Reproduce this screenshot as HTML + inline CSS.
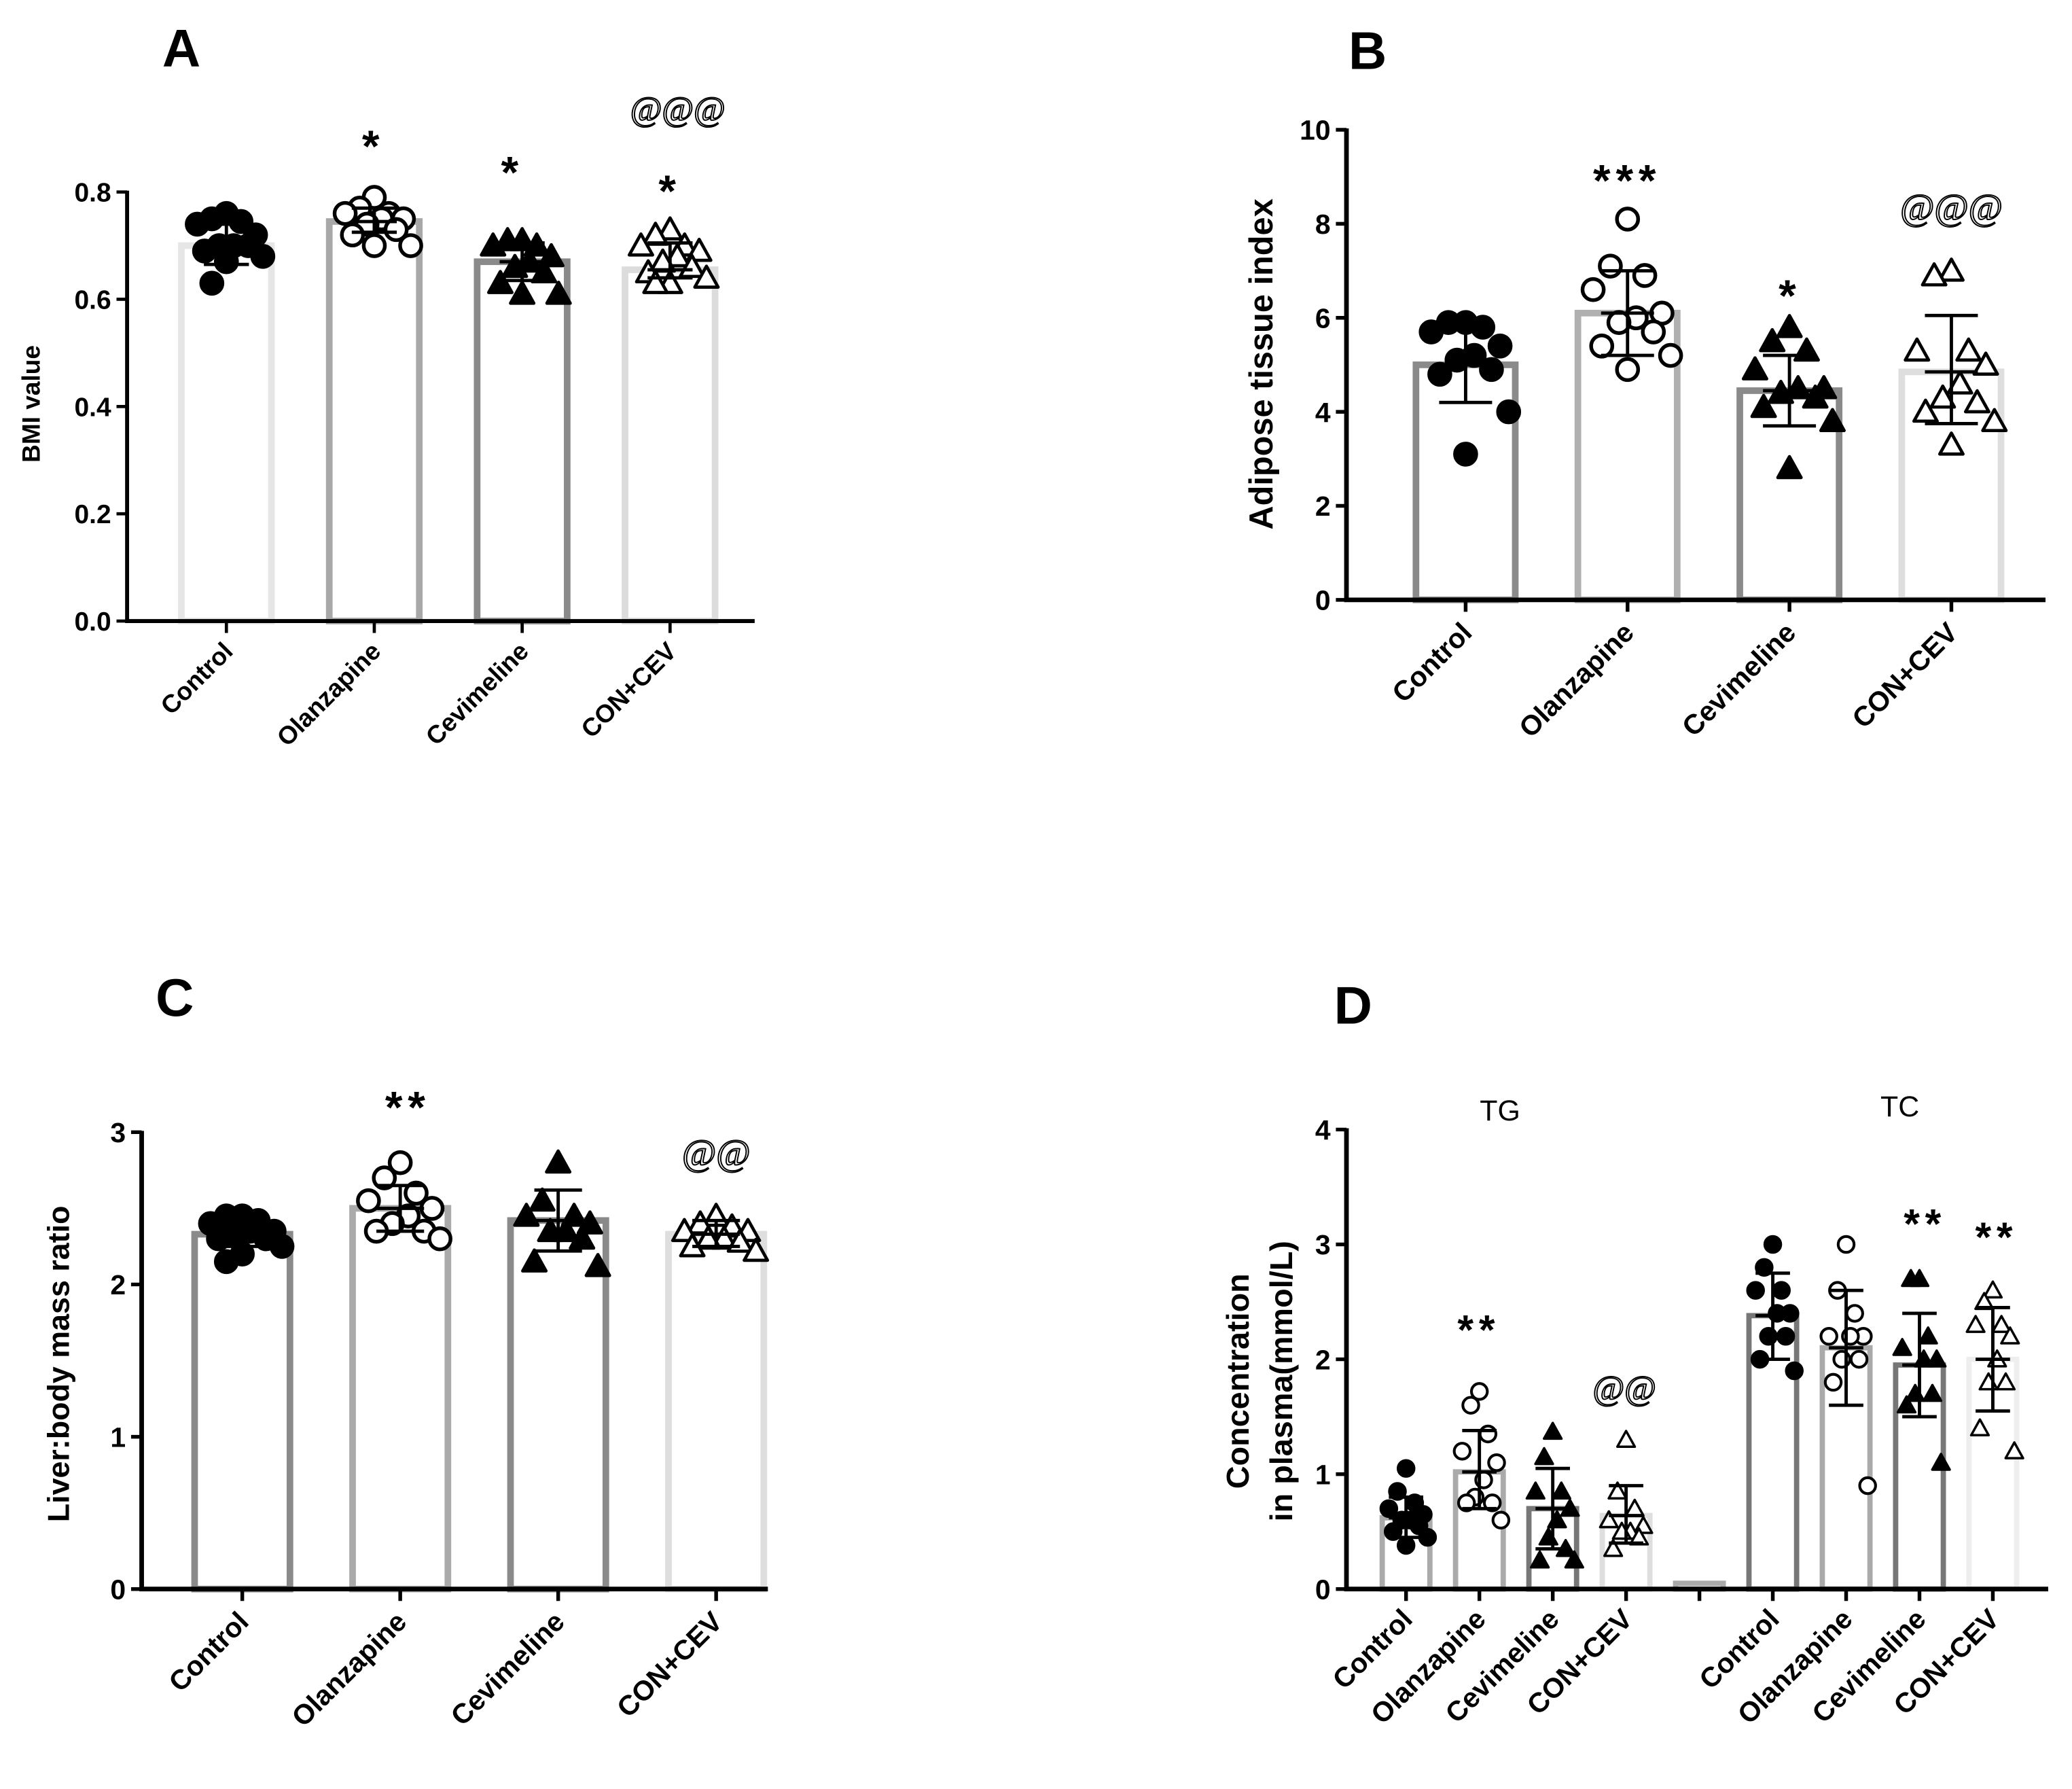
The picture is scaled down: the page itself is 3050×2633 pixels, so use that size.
<!DOCTYPE html>
<html><head><meta charset="utf-8">
<style>
html,body{margin:0;padding:0;background:#fff;}
svg{display:block;font-family:"Liberation Sans",Arial,sans-serif;}
</style></head>
<body>
<svg id="fig" width="3050" height="2633" viewBox="0 0 1565 1351" preserveAspectRatio="none" xmlns="http://www.w3.org/2000/svg"></svg>
<script>
// ---------- data ----------
const groupsABC = ["Control","Olanzapine","Cevimeline","CON+CEV"];
const groupsD = ["Control","Olanzapine","Cevimeline","CON+CEV","","Control","Olanzapine","Cevimeline","CON+CEV"];

const aMeans = [0.70, 0.745, 0.67, 0.655];
const aErrLo = [0.665, 0.725, 0.635, 0.64];
const aErrHi = [0.74, 0.77, 0.705, 0.705];
const aPts0 = [0.76,0.75,0.745,0.74,0.72,0.70,0.70,0.70,0.69,0.68,0.67,0.63];
const aPts1 = [0.79,0.77,0.76,0.76,0.75,0.75,0.74,0.73,0.72,0.70,0.70];
const aPts2 = [0.71,0.71,0.70,0.70,0.68,0.67,0.66,0.65,0.63,0.61,0.61];
const aPts3 = [0.73,0.72,0.70,0.70,0.69,0.68,0.67,0.66,0.65,0.64,0.63,0.63];
const aTicks = ["0.0","0.2","0.4","0.6","0.8"];

const bMeans = [5.0, 6.1, 4.45, 4.85];
const bErrLo = [4.2, 5.2, 3.7, 3.75];
const bErrHi = [5.8, 7.0, 5.2, 6.05];
const bPts0 = [5.9,5.9,5.8,5.7,5.4,5.2,5.1,4.9,4.8,4.0,3.1];
const bPts1 = [8.1,7.1,6.9,6.6,6.1,6.0,5.9,5.7,5.4,5.2,4.9];
const bPts2 = [5.8,5.5,5.3,4.9,4.5,4.5,4.4,4.3,4.1,3.8,2.8];
const bPts3 = [7.0,6.9,5.3,5.3,5.0,4.6,4.3,4.2,4.0,3.8,3.3];
const bTicks = ["0","2","4","6","8","10"];

const cMeans = [2.33, 2.5, 2.42, 2.33];
const cErrLo = [2.25, 2.35, 2.22, 2.25];
const cErrHi = [2.42, 2.65, 2.62, 2.42];
const cPts0 = [2.45,2.45,2.42,2.4,2.35,2.35,2.33,2.3,2.3,2.25,2.2,2.15];
const cPts1 = [2.8,2.7,2.6,2.55,2.5,2.45,2.4,2.35,2.35,2.3];
const cPts2 = [2.8,2.55,2.45,2.45,2.4,2.35,2.35,2.3,2.15,2.12];
const cPts3 = [2.45,2.4,2.38,2.35,2.35,2.3,2.3,2.28,2.25,2.22];
const cTicks = ["0","1","2","3"];

const dMeans = [0.62, 1.02, 0.7, 0.64, 0.05, 2.38, 2.1, 1.95, 2.0];
const dErrLo = [0.45, 0.7, 0.35, 0.4, null, 2.0, 1.6, 1.5, 1.55];
const dErrHi = [0.8, 1.38, 1.05, 0.9, null, 2.75, 2.6, 2.4, 2.45];
const dPts0 = [1.05,0.85,0.75,0.7,0.65,0.6,0.6,0.55,0.5,0.45,0.38];
const dPts1 = [1.72,1.6,1.35,1.2,1.1,0.95,0.8,0.75,0.75,0.6];
const dPts2 = [1.37,1.15,0.85,0.85,0.7,0.6,0.45,0.35,0.25,0.25];
const dPts3 = [1.3,0.85,0.7,0.6,0.55,0.5,0.5,0.45,0.35];
const dPts5 = [3.0,2.8,2.6,2.6,2.4,2.4,2.2,2.2,2.0,1.9];
const dPts6 = [3.0,2.6,2.4,2.2,2.2,2.2,2.0,2.0,1.8,0.9];
const dPts7 = [2.7,2.7,2.2,2.1,2.0,2.0,1.7,1.7,1.6,1.1];
const dPts8 = [2.6,2.5,2.3,2.3,2.2,2.0,1.8,1.8,1.4,1.2];
const dTicks = ["0","1","2","3","4"];

// ---------- drawing helpers ----------
const NS = "http://www.w3.org/2000/svg";
const svg = document.getElementById("fig");
function mk(tag, attrs, parent){
  const e = document.createElementNS(NS, tag);
  for (const k in attrs) e.setAttribute(k, attrs[k]);
  (parent||svg).appendChild(e);
  return e;
}
function txt(s, attrs, parent){ const t = mk("text", attrs, parent); t.textContent = s; return t; }

function marker(g, type, x, y, r){
  let e;
  if (type === 0 || type === 1){
    e = mk("circle",{cx:x,cy:y,r:r,fill:type===0?"#000":"#fff",stroke:"#000","stroke-width":r*0.35},g);
  } else {
    const h = r*1.1;
    e = mk("polygon",{points:`${x},${y-h} ${x-h},${y+h*0.8} ${x+h},${y+h*0.8}`,fill:type===2?"#000":"#fff",stroke:"#000","stroke-width":r*0.3,"stroke-linejoin":"round"},g);
  }
  
  
}

function panel(cfg){
  const g = mk("g",{});
  
  
  const yS = v => cfg.y0 - (v - cfg.vmin)/(cfg.vmax - cfg.vmin)*(cfg.y0 - cfg.y1);
  const xS = i => cfg.xs[0] + i*cfg.step;
  cfg.means.forEach((m,i)=>{
    const x = xS(i), w = cfg.bw;
    const b = mk("rect",{x:x-w/2,y:yS(m),width:w,height:cfg.y0-yS(m),fill:"#fff",stroke:cfg.colors[i],"stroke-width":cfg.bs},g);
    
    
  });
  cfg.pts.forEach((arr,i)=>{
    if (!arr) return;
    const sp = cfg.jit;
    arr.forEach((v,j)=>{
      const k = j % 5;
      const off = [0,-1,1,-2,2][k]*sp + (Math.floor(j/5)%2 ? sp*0.5 : 0);
      marker(g, cfg.types[i], xS(i)+off, yS(v), cfg.r);
    });
  });
  cfg.means.forEach((m,i)=>{
    if (cfg.lo[i]==null) return;
    const x = xS(i), cw = cfg.capw;
    const e = mk("path",{d:`M${x},${yS(cfg.lo[i])}V${yS(cfg.hi[i])}M${x-cw},${yS(cfg.lo[i])}H${x+cw}M${x-cw},${yS(cfg.hi[i])}H${x+cw}M${x-cw},${yS(m)}H${x+cw}`,stroke:"#000","stroke-width":cfg.ew,fill:"none"},g);
    
    
  });
  const ax = mk("path",{d:`M${cfg.ax},${cfg.y1-1}V${cfg.y0}H${cfg.xend}`,stroke:"#000","stroke-width":cfg.aw,fill:"none"},g);
  
  
  cfg.ticks.forEach((t,i)=>{
    const v = cfg.vmin + i*(cfg.vmax-cfg.vmin)/(cfg.ticks.length-1);
    mk("line",{x1:cfg.ax-8,x2:cfg.ax,y1:yS(v),y2:yS(v),stroke:"#000","stroke-width":cfg.aw*0.8},g);
    const tl = txt(t,{x:cfg.ax-12,y:yS(v)+cfg.tf*0.36,"text-anchor":"end","font-size":cfg.tf,"font-weight":"bold"},g);
    
    
  });
  cfg.cats.forEach((c,i)=>{
    const x = xS(i);
    mk("line",{x1:x,x2:x,y1:cfg.y0,y2:cfg.y0+9,stroke:"#000","stroke-width":cfg.aw*0.8},g);
    if (!c) return;
    const tl = txt(c,{x:x+cfg.lx,y:cfg.y0+cfg.ly,"text-anchor":"end","font-size":cfg.cf,"font-weight":"bold",transform:`rotate(-45 ${x+cfg.lx} ${cfg.y0+cfg.ly})`},g);
    
    
  });
  cfg.ytitle.forEach((s,k)=>{
    const tx = cfg.ytx + k*cfg.ytlh;
    const t = txt(s,{x:tx,y:cfg.yty,"text-anchor":"middle","font-size":cfg.ytf,"font-weight":"bold",transform:`rotate(-90 ${tx} ${cfg.yty})`},g);
    
    
  });
  const L = txt(cfg.letter,{x:cfg.lpos[0],y:cfg.lpos[1],"text-anchor":"middle","font-size":40,"font-weight":"bold"},g);
  
  
  cfg.ann.forEach(a=>{
    const isAt = a[0].indexOf("@")>=0;
    const t = txt(a[0],{x:a[1],y:a[2],"text-anchor":"middle","font-size":isAt?a[3]:a[3]*1.3,"font-weight":isAt?"normal":"bold","font-family":isAt?"'Liberation Serif',serif":"'Liberation Sans',sans-serif",fill:isAt?"#fff":"#000",stroke:isAt?"#000":"none","stroke-width":isAt?1:0,"letter-spacing":isAt?0:4},g);
    
    
  });
}

panel({name:"panel-a",letter:"A",lpos:[137,50],vmin:0,vmax:0.8,y0:469,y1:145,ax:96,xend:570,
  xs:[171],step:111.7,bw:68,bs:5,cats:groupsABC,means:aMeans,lo:aErrLo,hi:aErrHi,
  pts:[aPts0,aPts1,aPts2,aPts3],types:[0,1,2,3],r:8,jit:11,capw:17,ew:2.5,aw:3,
  colors:["#e6e6e6","#a8a8a8","#8a8a8a","#dcdcdc"],ticks:aTicks,tf:20,cf:19,lx:6,ly:24,
  ytitle:["BMI value"],ytx:30,yty:305,ytf:19,ytlh:0,
  ann:[["*",282,122,26],["*",387,142,26],["*",506,156,26],["@@@",512,91,26]]});

panel({name:"panel-b",letter:"B",lpos:[1033,52],vmin:0,vmax:10,y0:453,y1:98,ax:1017,xend:1545,
  xs:[1107],step:122.3,bw:75,bs:5,cats:groupsABC,means:bMeans,lo:bErrLo,hi:bErrHi,
  pts:[bPts0,bPts1,bPts2,bPts3],types:[0,1,2,3],r:8,jit:13,capw:20,ew:2.5,aw:3.5,
  colors:["#8a8a8a","#b0b0b0","#8a8a8a","#dedede"],ticks:bTicks,tf:21,cf:21,lx:6,ly:26,
  ytitle:["Adipose tissue index"],ytx:961,yty:275,ytf:25,ytlh:0,
  ann:[["***",1229,148,26],["*",1352,235,26],["@@@",1474,166,28]]});

panel({name:"panel-c",letter:"C",lpos:[132,767],vmin:0,vmax:3,y0:1200,y1:855,ax:107,xend:580,
  xs:[183],step:119.3,bw:72,bs:5,cats:groupsABC,means:cMeans,lo:cErrLo,hi:cErrHi,
  pts:[cPts0,cPts1,cPts2,cPts3],types:[0,1,2,3],r:8,jit:12,capw:18,ew:2.5,aw:3.5,
  colors:["#8a8a8a","#aaaaaa","#8a8a8a","#dedede"],ticks:cTicks,tf:21,cf:21,lx:6,ly:26,
  ytitle:["Liver:body mass ratio"],ytx:52,yty:1030,ytf:23,ytlh:0,
  ann:[["**",308,848,26],["@@",541,880,28]]});

panel({name:"panel-d",letter:"D",lpos:[1022,773],vmin:0,vmax:4,y0:1200,y1:853,ax:1017,xend:1547,
  xs:[1062],step:55.4,bw:36,bs:4,cats:groupsD,means:dMeans,lo:dErrLo,hi:dErrHi,
  pts:[dPts0,dPts1,dPts2,dPts3,null,dPts5,dPts6,dPts7,dPts8],types:[0,1,2,3,0,0,1,2,3],r:6,jit:6.5,capw:13,ew:2.5,aw:3.5,
  colors:["#aaaaaa","#aaaaaa","#777777","#dedede","#aaaaaa","#777777","#aaaaaa","#777777","#eeeeee"],ticks:dTicks,tf:21,cf:21,lx:6,ly:24,
  ytitle:["Concentration","in  plasma(mmol/L)"],ytx:943,yty:1043,ytf:24,ytlh:33,
  ann:[["**",1117,1015,24],["@@",1227,1057,26],["**",1454,935,24],["**",1508,945,24]]});

const tg = txt("TG",{x:1133,y:846,"text-anchor":"middle","font-size":22});


const tc = txt("TC",{x:1435,y:843,"text-anchor":"middle","font-size":22});


</script>
</body></html>
